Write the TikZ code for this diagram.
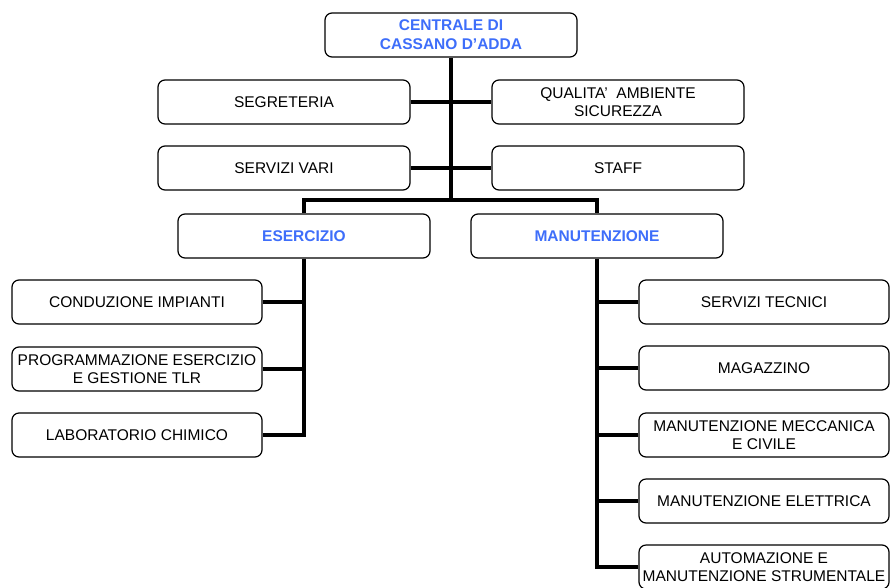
\documentclass[tikz,border=0pt]{standalone}
\usepackage{fontspec}
\setmainfont{Liberation Sans}
\usepackage{tikz}
\usetikzlibrary{positioning}
\definecolor{titleblue}{RGB}{62,110,250}

\begin{document}
\begin{tikzpicture}[x=1pt,y=-1pt]
			\tikzstyle{Unit}	= [draw, line width=1.2pt, rounded corners=7pt, fill=white, minimum width=252pt, minimum height=44pt, inner sep=1pt, align=center, font=\fontsize{15.5}{18.5}\selectfont]
			\tikzstyle{Office}	= [Unit, minimum width=250pt]
			\tikzstyle{Head}	= [text=titleblue, font=\fontsize{15.5}{19}\selectfont\bfseries]
			\tikzstyle{Link}	= [line width=3.4pt, black]

			\useasboundingbox (0,0) rectangle (891,587);

			\node (cdc) at (451,35) [Unit, Head] {CENTRALE DI\\CASSANO D’ADDA};
			\node (seg) at (284,102) [Unit] {SEGRETERIA};
			\node (qas) at (618,102) [Unit] {QUALITA’~~AMBIENTE\\SICUREZZA};
			\node (svv) at (284,168) [Unit] {SERVIZI VARI};
			\node (stf) at (618,168) [Unit] {STAFF};
			\node (ese) at (304,236) [Unit, Head] {ESERCIZIO};
			\node (man) at (597,236) [Unit, Head] {MANUTENZIONE};
			\coordinate (hub) at (451,200);

			\foreach \n/\y/\t in {ci/302/CONDUZIONE IMPIANTI, pe/369/{PROGRAMMAZIONE ESERCIZIO\\E GESTIONE TLR}, lc/435/LABORATORIO CHIMICO}
				\node (\n) at (137,\y) [Office] {\t};
			\foreach \n/\y/\t in {st/302/SERVIZI TECNICI, mg/368/MAGAZZINO, mm/435/{MANUTENZIONE MECCANICA\\E CIVILE}, me/501/MANUTENZIONE ELETTRICA, ms/567/{AUTOMAZIONE E\\MANUTENZIONE STRUMENTALE}}
				\node (\n) at (764,\y) [Office] {\t};

			\draw [Link] (cdc.south) -- (hub);
			\draw [Link] (seg.east) -- (qas.west);
			\draw [Link] (svv.east) -- (stf.west);
			\draw [Link] (ese.north) |- (hub) -| (man.north);

			\draw [Link] (ese.south) |- (lc.east);
			\foreach \n in {ci, pe}
				\draw [Link] (\n.east) -- (\n.east -| ese.south);
			\draw [Link] (man.south) |- (ms.west);
			\foreach \n in {st, mg, mm, me}
				\draw [Link] (\n.west) -- (\n.west -| man.south);
\end{tikzpicture}
\end{document}
